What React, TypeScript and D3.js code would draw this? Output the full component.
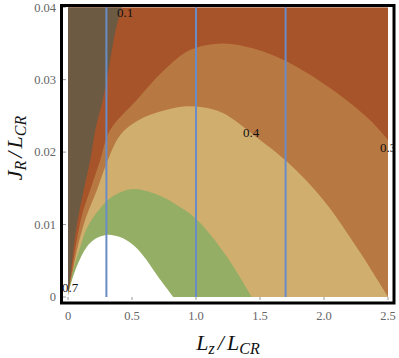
import React from 'react';
import * as d3 from 'd3';

// Contour boundaries: [Lz/LCR, JR/LCR]
const contour01: number[][] = [[0,0],[0.02,0.003],[0.042,0.0065],[0.075,0.0106],[0.123,0.0148],[0.174,0.0189],[0.213,0.0230],[0.271,0.0272],[0.320,0.0317],[0.367,0.0364],[0.420,0.0400]];
const contour03: number[][] = [[0,0],[0.025,0.003],[0.055,0.0065],[0.109,0.0113],[0.174,0.0148],[0.252,0.0189],[0.328,0.0230],[0.537,0.0272],[0.75,0.0313],[0.953,0.0341],[1.21,0.0350],[1.45,0.0343],[1.709,0.0325],[2.05,0.0288],[2.36,0.0244],[2.5,0.0217]];
const contour04: number[][] = [[0,0],[0.03,0.0028],[0.07,0.0065],[0.141,0.0110],[0.227,0.0148],[0.300,0.0184],[0.41,0.0224],[0.55,0.0244],[0.72,0.0256],[0.9,0.0263],[1.05,0.0262],[1.21,0.0254],[1.47,0.0221],[1.71,0.0187],[2.0,0.0133],[2.28,0.0062],[2.5,0]];
const contour05: number[][] = [[0,0],[0.03,0.0030],[0.088,0.0065],[0.15,0.0096],[0.25,0.0122],[0.35,0.0139],[0.51,0.0149],[0.7,0.0141],[0.85,0.0127],[1.0,0.0108],[1.24,0.0056],[1.435,0]];
const contour07: number[][] = [[0,0],[0.016,0.0014],[0.068,0.0042],[0.146,0.0069],[0.22,0.0081],[0.31,0.0086],[0.40,0.0083],[0.50,0.0073],[0.588,0.0057],[0.70,0.0029],[0.823,0]];

const verticalLines = [0.3, 1.0, 1.7];
const xTicks = [0, 0.5, 1.0, 1.5, 2.0, 2.5];
const xTickLabels = ['0', '0.5', '1.0', '1.5', '2.0', '2.5'];
const yTicks = [0, 0.01, 0.02, 0.03, 0.04];
const yTickLabels = ['0', '0.01', '0.02', '0.03', '0.04'];
const contourLabelText = ['0.1', '0.4', '0.3', '0.7'];
const contourLabelX = [0.383, 1.367, 2.4375, -0.047];
const contourLabelY = [0.0386, 0.0221, 0.0200, 0.0007];

const W = 399, H = 358;
const x = d3.scaleLinear().domain([0, 2.5]).range([68, 388]);
const y = d3.scaleLinear().domain([0, 0.04]).range([297, 7.2]);

const curve = d3.curveCatmullRom.alpha(0.5);
const line = d3.line<number[]>().x(d => x(d[0])).y(d => y(d[1])).curve(curve);
const area = d3.area<number[]>().x(d => x(d[0])).y0(y(0)).y1(d => y(d[1])).curve(curve);

const C_DARK = '#6c5a43';
const C_ORANGE = '#a8542a';
const C_LBROWN = '#b87842';
const C_TAN = '#d0ae6e';
const C_GREEN = '#95ae65';
const C_BLUE = '#6a8cc6';

export default function App() {
  const darkPath = line(contour01) + `L${x(0)},${y(0.04)}Z`;
  const px0 = x(0), px1 = x(2.5), py0 = y(0), py1 = y(0.04);
  const serif = 'Liberation Serif, Times New Roman, serif';
  return (
    <svg width={W} height={H} style={{ position: 'absolute', left: 0, top: 0, background: '#fff' }}>
      <defs>
        <clipPath id="plot"><rect x={px0} y={py1} width={px1 - px0} height={py0 - py1} /></clipPath>
        <clipPath id="frame"><rect x={61.5} y={5.5} width={332.5} height={297.5} /></clipPath>
      </defs>
      <g clipPath="url(#plot)">
        <rect x={px0} y={py1} width={px1 - px0} height={py0 - py1} fill={C_ORANGE} />
        <path d={darkPath} fill={C_DARK} />
        <path d={area(contour03) || ''} fill={C_LBROWN} />
        <path d={area(contour04) || ''} fill={C_TAN} />
        <path d={area(contour05) || ''} fill={C_GREEN} />
        <path d={area(contour07) || ''} fill="#fff" />
      </g>
      {verticalLines.map(v => (
        <line key={v} x1={x(v)} x2={x(v)} y1={y(0)} y2={y(0.04)} stroke={C_BLUE} strokeWidth={2} />
      ))}
      <g clipPath="url(#frame)" fontFamily={serif} fontSize={13} fill="#111">
        {contourLabelText.map((t, i) => (
          <text key={t} x={x(contourLabelX[i])} y={y(contourLabelY[i])}>{t}</text>
        ))}
      </g>
      {xTicks.map(v => (
        <line key={'xt' + v} x1={x(v)} x2={x(v)} y1={297} y2={300} stroke="#999" strokeWidth={1} />
      ))}
      {yTicks.map(v => (
        <line key={'yt' + v} x1={63} x2={66} y1={y(v)} y2={y(v)} stroke="#999" strokeWidth={1} />
      ))}
      <rect x={61.5} y={5.5} width={332.5} height={297.5} fill="none" stroke="#000" strokeWidth={3} />
      <g fontFamily={serif} fontSize={12.5} fill="#666">
        {xTicks.map((v, i) => (
          <text key={'xl' + v} x={x(v)} y={319.5} textAnchor="middle">{xTickLabels[i]}</text>
        ))}
        {yTicks.map((v, i) => (
          <text key={'yl' + v} x={56} y={y(v)} dy="0.35em" textAnchor="end">{yTickLabels[i]}</text>
        ))}
      </g>
      <text x={228} y={350} textAnchor="middle" fontFamily={serif} fontStyle="italic" fontSize={22} fill="#111">
        <tspan>L</tspan>
        <tspan dy={4} fontSize={16}>z</tspan>
        <tspan dy={-4} dx={3}>/</tspan>
        <tspan dx={3}>L</tspan>
        <tspan dy={4} fontSize={16}>CR</tspan>
      </text>
      <text transform="translate(22,148) rotate(-90)" textAnchor="middle" fontFamily={serif} fontStyle="italic" fontSize={22} fill="#111">
        <tspan>J</tspan>
        <tspan dy={4} fontSize={16}>R</tspan>
        <tspan dy={-4} dx={3}>/</tspan>
        <tspan dx={3}>L</tspan>
        <tspan dy={4} fontSize={16}>CR</tspan>
      </text>
    </svg>
  );
}
